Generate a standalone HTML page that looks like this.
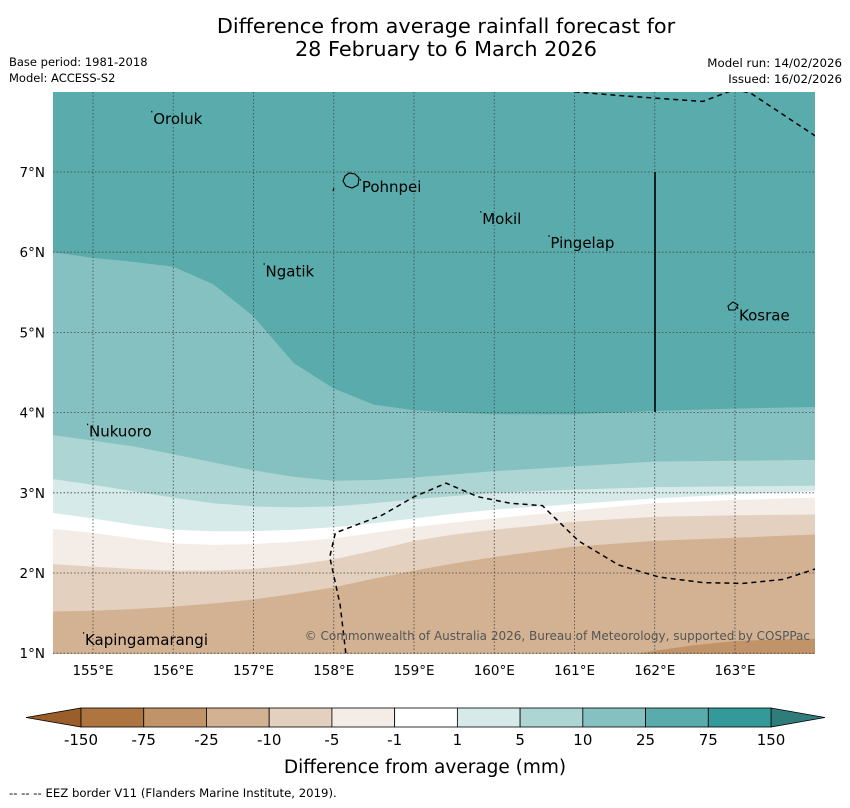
<!DOCTYPE html>
<html><head><meta charset="utf-8"><style>
body{margin:0;background:#fff;font-family:"DejaVu Sans","Liberation Sans",sans-serif}
svg text{font-family:"DejaVu Sans","Liberation Sans",sans-serif}
</style></head><body>
<svg id="s" width="850" height="804" viewBox="0 0 850 804">
<text x="446" y="33" font-size="20.8" text-anchor="middle">Difference from average rainfall forecast for</text>
<text x="446" y="56" font-size="20.8" text-anchor="middle">28 February to 6 March 2026</text>
<text x="9" y="66" font-size="11.5">Base period: 1981-2018</text>
<text x="9" y="82" font-size="11.5">Model: ACCESS-S2</text>
<text x="842" y="67" font-size="11.8" text-anchor="end">Model run: 14/02/2026</text>
<text x="842" y="83" font-size="11.8" text-anchor="end">Issued: 16/02/2026</text>
<defs><clipPath id="cp"><rect x="53" y="92" width="762" height="562"/></clipPath></defs>
<g id="map" clip-path="url(#cp)"></g>
<g id="axes"></g>
<g id="cbar"></g>
<text x="425" y="773" font-size="18.5" text-anchor="middle">Difference from average (mm)</text>
<text x="9" y="797" font-size="11.7">--  --  -- EEZ border V11 (Flanders Marine Institute, 2019).</text>
</svg>
<script>
const lons=[154.5,155,155.5,156,156.5,157,157.5,158,158.5,159,159.5,160,161,162,163,164];
const bA=[6.0,5.93,5.88,5.82,5.6,5.2,4.62,4.3,4.1,4.03,4.0,3.98,3.98,4.02,4.05,4.07];
const bB=[3.72,3.65,3.58,3.48,3.38,3.28,3.2,3.15,3.16,3.19,3.23,3.27,3.33,3.39,3.40,3.41];
const bC=[3.17,3.1,3.02,2.94,2.87,2.83,2.82,2.83,2.87,2.92,2.96,3.0,3.04,3.07,3.08,3.09];
const bD=[2.75,2.68,2.6,2.54,2.52,2.52,2.54,2.57,2.62,2.68,2.74,2.79,2.86,2.93,2.98,3.02];
const bE=[2.55,2.5,2.43,2.37,2.35,2.36,2.39,2.43,2.5,2.57,2.63,2.68,2.78,2.87,2.91,2.94];
const bF=[2.11,2.08,2.05,2.03,2.03,2.05,2.1,2.17,2.28,2.4,2.48,2.54,2.64,2.7,2.72,2.73];
const bG=[1.52,1.53,1.55,1.58,1.62,1.67,1.74,1.82,1.93,2.03,2.12,2.2,2.33,2.4,2.44,2.48];
const hLons=[161.8,162,162.5,163,163.5,164];
const bH=[1.0,1.03,1.1,1.15,1.17,1.18];
const cbLabels=["-150","-75","-25","-10","-5","-1","1","5","10","25","75","150"];
const cbColors=["#ae7540","#c09369","#d2b292","#e3d0bf","#f4ece6","#ffffff","#d6eae9","#acd5d4","#85c1c0","#5aabab","#339999"];
const lonTicks=[155,156,157,158,159,160,161,162,163];
const latTicks=[1,2,3,4,5,6,7];
const places=[["Oroluk",155.75,7.6],["Pohnpei",158.35,6.75],["Mokil",159.85,6.35],["Pingelap",160.7,6.05],["Ngatik",157.15,5.7],["Kosrae",163.05,5.15],["Nukuoro",154.95,3.7],["Kapingamarangi",154.9,1.1]];
const eez1=[[158.15,1.0],[158.08,1.6],[157.95,2.2],[158.02,2.5],[158.6,2.72],[159.0,2.95],[159.4,3.12],[159.8,2.95],[160.2,2.87],[160.6,2.84],[161.05,2.4],[161.55,2.1],[162.05,1.95],[162.6,1.88],[163.1,1.87],[163.6,1.92],[164.0,2.05]];
const eez2=[[161.0,8.0],[161.6,7.95],[162.6,7.88],[163.0,8.03],[163.2,7.98],[164.0,7.45]];
const X=l=>93+(l-155)*80.25, Y=t=>172-(t-7)*80.2;
const NS="http://www.w3.org/2000/svg";
function mk(tag,attrs,parent,txt){const e=document.createElementNS(NS,tag);for(const k in attrs)e.setAttribute(k,attrs[k]);if(txt!=null)e.textContent=txt;parent.appendChild(e);return e;}
const map=document.getElementById('map');
const bg=mk('rect',{x:53,y:92,width:762,height:562,fill:'#5aabab'},map);


function band(ls,b,col,name){let d='M'+X(ls[0])+','+Y(b[0]);for(let i=1;i<ls.length;i++)d+=' L'+X(ls[i])+','+Y(b[i]);d+=' L'+X(ls[ls.length-1])+',700 L'+X(ls[0])+',700 Z';
const p=mk('path',{d:d,fill:col},map);

}
band(lons,bA,'#85c1c0','band-10-25');
band(lons,bB,'#acd5d4','band-5-10');
band(lons,bC,'#d6eae9','band-1-5');
band(lons,bD,'#ffffff','band-neutral');
band(lons,bE,'#f4ece6','band-minus1-5');
band(lons,bF,'#e3d0bf','band-minus5-10');
band(lons,bG,'#d2b292','band-minus10-25');
band(hLons,bH,'#c09369','band-minus25-75');
lonTicks.forEach(l=>{const g=mk('line',{x1:X(l),x2:X(l),y1:92,y2:654,stroke:'#444','stroke-width':0.8,'stroke-dasharray':'1.5,2'},map);

});
latTicks.forEach(t=>{const g=mk('line',{x1:53,x2:815,y1:Y(t),y2:Y(t),stroke:'#444','stroke-width':0.8,'stroke-dasharray':'1.5,2'},map);

});
function eez(pts,name){const e=mk('polyline',{points:pts.map(p=>X(p[0])+','+Y(p[1])).join(' '),fill:'none',stroke:'#000','stroke-width':1.5,'stroke-dasharray':'5,4'},map);

}
eez(eez1,'eez-border-south');
eez(eez2,'eez-border-north');
const sl=mk('line',{x1:655,x2:655,y1:172,y2:412,stroke:'#000','stroke-width':1.6},map);


const po=mk('path',{d:'M345,176 L349,173 L355,174 L359,178 L358,185 L352,188 L346,186 L343,181 Z M334,188 L333,191',fill:'none',stroke:'#000','stroke-width':1.1},map);


const ko=mk('path',{d:'M728,306 L733,302 L738,305 L735,310 L729,310 Z',fill:'none',stroke:'#000','stroke-width':1.1},map);


places.forEach(p=>{const t=mk('text',{x:X(p[1]),y:Y(p[2]),'font-size':15},map,p[0]);


const dt=mk('rect',{x:X(p[1])-2,y:Y(p[2])-13,width:1.2,height:1.5,fill:'#000'},map);

});
const cr=mk('text',{x:810,y:640,'font-size':12,'text-anchor':'end',fill:'#555'},map,'© Commonwealth of Australia 2026, Bureau of Meteorology, supported by COSPPac');


const axes=document.getElementById('axes');
lonTicks.forEach(l=>{const t=mk('text',{x:X(l),y:675,'font-size':13.5,'text-anchor':'middle'},axes,l+'°E');

});
latTicks.forEach(v=>{const t=mk('text',{x:45,y:Y(v)+5,'font-size':13.5,'text-anchor':'end'},axes,v+'°N');

});
const cb=document.getElementById('cbar');
const cx0=81,cw=62.73,cy=708,ch=19;
const lt=mk('polygon',{points:`26,${cy+ch/2} ${cx0},${cy} ${cx0},${cy+ch}`,fill:'#9a5e2a',stroke:'#000','stroke-width':0.8},cb);


const rt=mk('polygon',{points:`${cx0+11*cw},${cy} 825,${cy+ch/2} ${cx0+11*cw},${cy+ch}`,fill:'#2e7d7a',stroke:'#000','stroke-width':0.8},cb);


cbColors.forEach((c,i)=>{const r=mk('rect',{x:cx0+i*cw,y:cy,width:cw,height:ch,fill:c,stroke:'#000','stroke-width':0.8},cb);

});
cbLabels.forEach((s,i)=>{const t=mk('text',{x:cx0+i*cw,y:745,'font-size':15,'text-anchor':'middle'},cb,s);

});
</script>
</body></html>
